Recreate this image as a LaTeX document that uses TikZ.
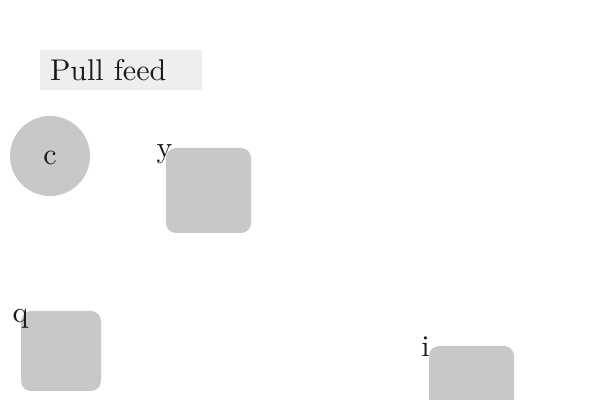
\documentclass[tikz,border=0pt]{standalone}
\usepackage{fontspec}
\setmainfont{lmroman10-regular}[Extension=.otf]
\usepackage{tikz,xcolor}
\definecolor{blockgray}{HTML}{C8C8C8}
\definecolor{titlegray}{HTML}{EEEEEE}

\begin{document}
\begin{tikzpicture}[x=1pt,y=1pt,
	every node/.style={font=\fontsize{15}{18}\selectfont,text=black!90},
	block/.style={fill=blockgray,draw=none,rounded corners=5pt,minimum size=#1,inner sep=0pt},
	tag/.style={anchor=center,inner sep=0pt}]
	\useasboundingbox (0,0) rectangle (300,200);
	
	\node (title) at (60.5,165)[fill=titlegray,minimum height=20pt,text width=71pt,inner xsep=5pt,align=left]{Pull feed};
	
	\node (c) at (25,122)[circle,fill=blockgray,minimum size=40pt,inner sep=0pt,text height=8.7pt,text depth=0pt]{c};
	\node (y) at (104.25,104.75)[block=42.5pt,label={[tag,shift={(-0.5pt,-3.5pt)}]north west:y}]{};
	\node (q) at (30.5,24.5)[block=40pt,label={[tag,shift={(0pt,-4pt)}]north west:q}]{};
	\node (i) at (235.75,5.75)[block=42.5pt,label={[tag,shift={(-1.5pt,-0.5pt)}]north west:i}]{};
	
\end{tikzpicture}
\end{document}
